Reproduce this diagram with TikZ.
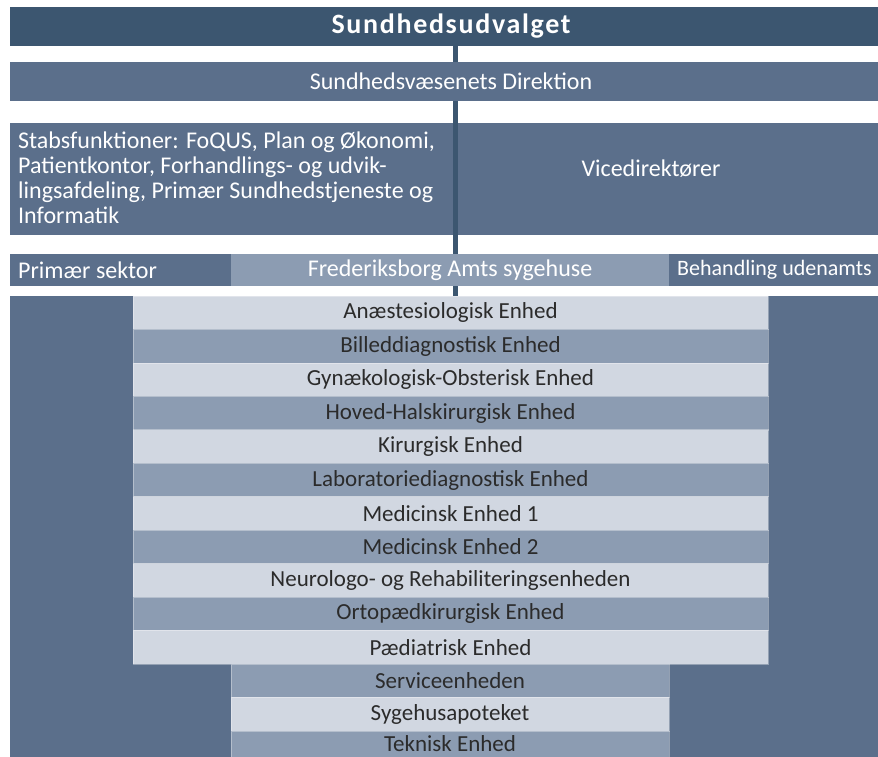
\documentclass[tikz,border=0pt]{standalone}
\usepackage{fontspec}
\usetikzlibrary{backgrounds}
\setmainfont{Carlito}
\definecolor{darkbar}{HTML}{3C5670}
\definecolor{midbar}{HTML}{5B6F8B}
\definecolor{lightbar}{HTML}{8C9CB2}
\definecolor{palebar}{HTML}{D1D7E1}
\definecolor{rowtext}{HTML}{2B2B2B}
\tikzset{
  box/.style={draw=none, inner sep=0pt, outer sep=0pt, rectangle},
  headtext/.style={text=white, font=\fontsize{24}{25}\selectfont},
  rowbox/.style={box, minimum width=635pt, minimum height=33.45pt, text=rowtext,
     font=\fontsize{23}{24}\selectfont, draw=white, draw opacity=0.35, line width=0.6pt},
  lowbox/.style={rowbox, minimum width=438pt},
  pale/.style={fill=palebar},
  light/.style={fill=lightbar},
  spine/.style={draw=darkbar, line width=5pt}
}
\begin{document}
\begin{tikzpicture}[x=1pt,y=-1pt]
\useasboundingbox (0,0) rectangle (878,757);
% bars
\node[box, fill=darkbar, minimum width=882pt, minimum height=39pt, text=white,
  font=\fontsize{28}{30}\addfontfeatures{LetterSpace=6}\bfseries\selectfont] (top) at (451,26.5) {Sundhedsudvalget};
\coordinate (spineX) at (455.5,0);
\node[box, fill=midbar, minimum width=882pt, minimum height=39pt, headtext] (dir) at (451,81.5) {Sundhedsvæsenets Direktion};
% background of unit area
\node[box, fill=midbar, minimum width=882pt, minimum height=470pt] (bg) at (451,531) {};
% rows
\node[rowbox, pale]  (r1)  at (450.5,312.7) {Anæstesiologisk Enhed};
\node[rowbox, light] (r2)  at (450.5,346.2) {Billeddiagnostisk Enhed};
\node[rowbox, pale]  (r3)  at (450.5,379.6) {Gynækologisk-Obsterisk Enhed};
\node[rowbox, light] (r4)  at (450.5,413.1) {Hoved-Halskirurgisk Enhed};
\node[rowbox, pale]  (r5)  at (450.5,446.5) {Kirurgisk Enhed};
\node[rowbox, light] (r6)  at (450.5,480.0) {Laboratoriediagnostisk Enhed};
\node[rowbox, pale]  (r7)  at (450.5,513.4) {Medicinsk Enhed 1};
\node[rowbox, light] (r8)  at (450.5,546.9) {Medicinsk Enhed 2};
\node[rowbox, pale]  (r9)  at (450.5,580.3) {Neurologo- og Rehabiliteringsenheden};
\node[rowbox, light] (r10) at (450.5,613.8) {Ortopædkirurgisk Enhed};
\node[rowbox, pale]  (r11) at (450.5,647.2) {Pædiatrisk Enhed};
\node[lowbox, light] (r12) at (450,680.7) {Serviceenheden};
\node[lowbox, pale]  (r13) at (450,714.1) {Sygehusapoteket};
\node[lowbox, light, minimum height=26.2pt] (r14) at (450,743.9) {Teknisk Enhed};
% block 3
\node[box, fill=midbar, minimum width=443pt, minimum height=112pt] (stabs) at (231.5,179) {};
\node[box, fill=midbar, minimum width=434pt, minimum height=112pt] (vice) at (675,179) {};
\node[headtext, anchor=north west, align=left, inner sep=0pt] (stabstext) at (18,132)
  {Stabsfunktioner: FoQUS, Plan og Økonomi,\\Patientkontor, Forhandlings- og udvik-\\lingsafdeling, Primær Sundhedstjeneste og\\Informatik};
\node[headtext, inner sep=0pt] (vicetext) at (651,169) {Vicedirektører};
% row 4
\node[box, fill=midbar, minimum width=221pt, minimum height=32pt] (prim) at (120.5,270) {};
\node[box, fill=lightbar, minimum width=438pt, minimum height=32pt, headtext] (fred) at (450,270) {Frederiksborg Amts sygehuse};
\node[box, fill=midbar, minimum width=223pt, minimum height=32pt] (beh) at (780.5,270) {};
\node[headtext, anchor=west, inner sep=0pt] (primtext) at (18,270) {Primær sektor};
\node[headtext, anchor=west, inner sep=0pt, font=\fontsize{22}{24}\selectfont] (behtext) at (677,270) {Behandling udenamts};
% spine behind everything
\begin{pgfonlayer}{background}
\fill[white] (0,0) rectangle (878,757);
\draw[spine] (top.south -| spineX) -- (r1.north -| spineX);
\end{pgfonlayer}
\end{tikzpicture}
\end{document}
